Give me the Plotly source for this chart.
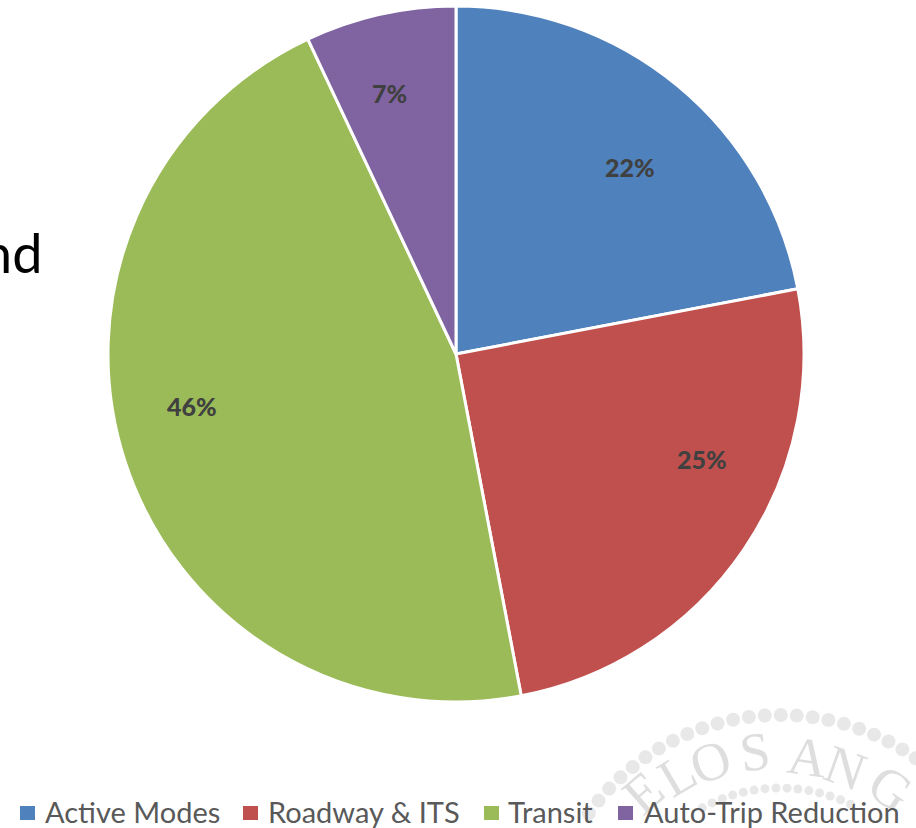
import math
import plotly.graph_objects as go

categories = ["Active Modes", "Roadway & ITS", "Transit", "Auto-Trip Reduction"]
values = [22, 25, 46, 7]
labels = ["22%", "25%", "46%", "7%"]
colors = ["#4F81BD", "#C0504D", "#9BBB59", "#8064A2"]
seal_letters = ["E", "L", "O", "S", "A", "N", "G"]

W, H = 916, 828
label_xy = [(630, 167), (702, 459), (192, 406), (389, 93)]
legend_x = [(20, 44), (243, 267), (484, 507), (618, 643)]
letter_xy = [(643, 793), (677, 775), (710, 762), (755, 752), (807, 757), (845, 768), (890, 788)]
SEAL_C = (780, 950)

def ring(radius, a0, a1, step):
    n = int((a1 - a0) / step) + 1
    angs = [a0 + i * step for i in range(n)]
    return ([SEAL_C[0] + radius * math.sin(a) for a in angs],
            [SEAL_C[1] - radius * math.cos(a) for a in angs])

fig = go.Figure()
ox, oy = ring(235, -0.95, 0.75, 16 / 235)
ix, iy = ring(162, -0.5, 0.5, 11 / 162)
fig.add_trace(go.Scatter(x=ox + ix, y=oy + iy, mode="markers", hoverinfo="skip", showlegend=False,
                         cliponaxis=False,
                         marker=dict(size=[14] * len(ox) + [9] * len(ix), color="#DEDEDE", line=dict(width=0))))
fig.add_trace(go.Pie(
    labels=categories, values=values, textinfo="none",
    sort=False, direction="clockwise", rotation=0,
    marker=dict(colors=colors, line=dict(color="white", width=3)),
    domain=dict(x=[108 / W, 804 / W], y=[1 - 702 / H, 1 - 6 / H]),
    showlegend=False,
))
for ch, (x, y) in zip(seal_letters, letter_xy):
    ang = math.degrees(math.atan2(x - SEAL_C[0], SEAL_C[1] - y))
    fig.add_annotation(x=x, y=y, xref="x", yref="y", text=ch, showarrow=False, textangle=ang,
                       font=dict(family="Liberation Serif", size=54, color="#DEDEDE"))
for txt, (x, y) in zip(labels, label_xy):
    fig.add_annotation(x=x, y=y, xref="x", yref="y", text=txt, showarrow=False,
                       font=dict(family="Lato", size=25, color="#404040", weight=900))
for (sx, tx), name, c in zip(legend_x, categories, colors):
    fig.add_shape(type="rect", xref="x", yref="y", x0=sx, x1=sx + 15, y0=806, y1=820,
                  fillcolor=c, line_width=0)
    fig.add_annotation(x=tx, y=811, xref="x", yref="y", xanchor="left", yanchor="middle", xshift=-1,
                       text=name, showarrow=False, font=dict(family="Lato", size=29, color="#595959"))
fig.add_annotation(x=44, y=252, xref="x", yref="y", xanchor="right", yanchor="middle",
                   text="nd", showarrow=False, font=dict(family="Lato", size=54, color="#000000"))
fig.update_layout(width=W, height=H, margin=dict(l=0, r=0, t=0, b=0), paper_bgcolor="white",
                  plot_bgcolor="white",
                  xaxis=dict(range=[0, W], visible=False, fixedrange=True),
                  yaxis=dict(range=[H, 0], visible=False, fixedrange=True))
fig.write_html("out.html", config=dict(displayModeBar=False),
               post_script="document.body.style.margin='0';document.documentElement.style.overflow='hidden';")
